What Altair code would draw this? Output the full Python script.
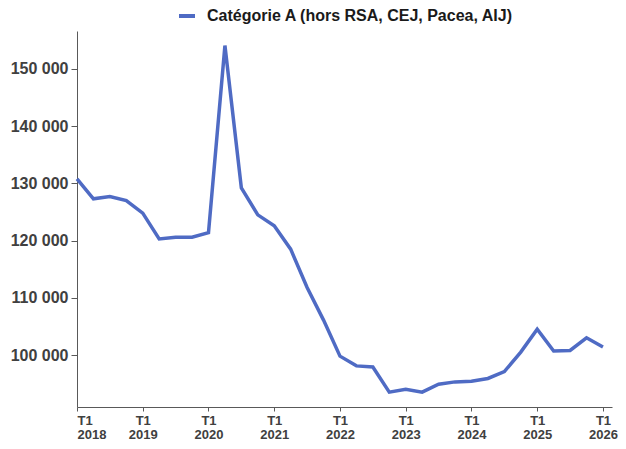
import altair as alt
import pandas as pd

years = ["2018", "2019", "2020", "2021", "2022", "2023", "2024", "2025", "2026"]
quarters = ["T1", "T2", "T3", "T4"]
values = [
    130800, 127300, 127700, 127000,
    124800, 120300, 120600, 120600,
    121400, 154100, 129200, 124500,
    122600, 118500, 111800, 106100,
    99800, 98100, 97900, 93500,
    94000, 93500, 94900, 95300,
    95400, 95900, 97100, 100500,
    104500, 100700, 100800, 103000,
    101400,
]
series_name = "Catégorie A (hors RSA, CEJ, Pacea, AIJ)"

periods = [f"{q} {y}" for y in years for q in quarters][: len(values)]
df = pd.DataFrame({
    "idx": list(range(len(values))),
    "periode": periods,
    "valeur": values,
    "serie": [series_name] * len(values),
})

label_font = "Liberation Sans"
grey = "#404040"
axis_grey = "#595959"

chart = alt.Chart(df).mark_line(strokeWidth=3.5, color="#4F6BC4").encode(
    x=alt.X(
        "idx:Q",
        scale=alt.Scale(domain=[0, 32.55], nice=False, zero=False),
        axis=alt.Axis(
            title=None,
            values=[0, 4, 8, 12, 16, 20, 24, 28, 32],
            labelExpr="['T1', '' + (2018 + datum.value / 4)]",
            grid=False,
            domainColor=axis_grey,
            tickColor=axis_grey,
            tickSize=4,
            labelFont=label_font,
            labelFontSize=13,
            labelFontWeight="bold",
            labelColor=grey,
            labelLineHeight=14,
            labelPadding=3,
            labelOverlap=False,
            labelBound=False,
        ),
    ),
    y=alt.Y(
        "valeur:Q",
        scale=alt.Scale(domain=[90910, 156640], nice=False, zero=False),
        axis=alt.Axis(
            title=None,
            values=[100000, 110000, 120000, 130000, 140000, 150000],
            labelExpr="replace(format(datum.value, ',d'), ',', ' ')",
            grid=False,
            domainColor=axis_grey,
            tickColor=axis_grey,
            tickSize=6,
            labelFont=label_font,
            labelFontSize=16,
            labelFontWeight="bold",
            labelColor=grey,
            labelPadding=3,
        ),
    ),
    stroke=alt.Stroke(
        "serie:N",
        scale=alt.Scale(range=["#4F6BC4"]),
        legend=alt.Legend(
            title=None,
            orient="none",
            legendX=100,
            legendY=-25,
            symbolType="stroke",
            symbolStrokeWidth=4,
            symbolSize=256,
            labelFont=label_font,
            labelFontSize=16,
            labelFontWeight="bold",
            labelColor="#1a1a1a",
            labelOffset=10,
            labelLimit=500,
        ),
    ),
    order="idx:Q",
).properties(
    width=535,
    height=376,
    autosize=alt.AutoSizeParams(type="none"),
    padding={"left": 69, "top": 23, "right": 6, "bottom": 34},
).configure_view(stroke=None)

chart.save("out.html", embed_options={"renderer": "svg", "actions": False})
